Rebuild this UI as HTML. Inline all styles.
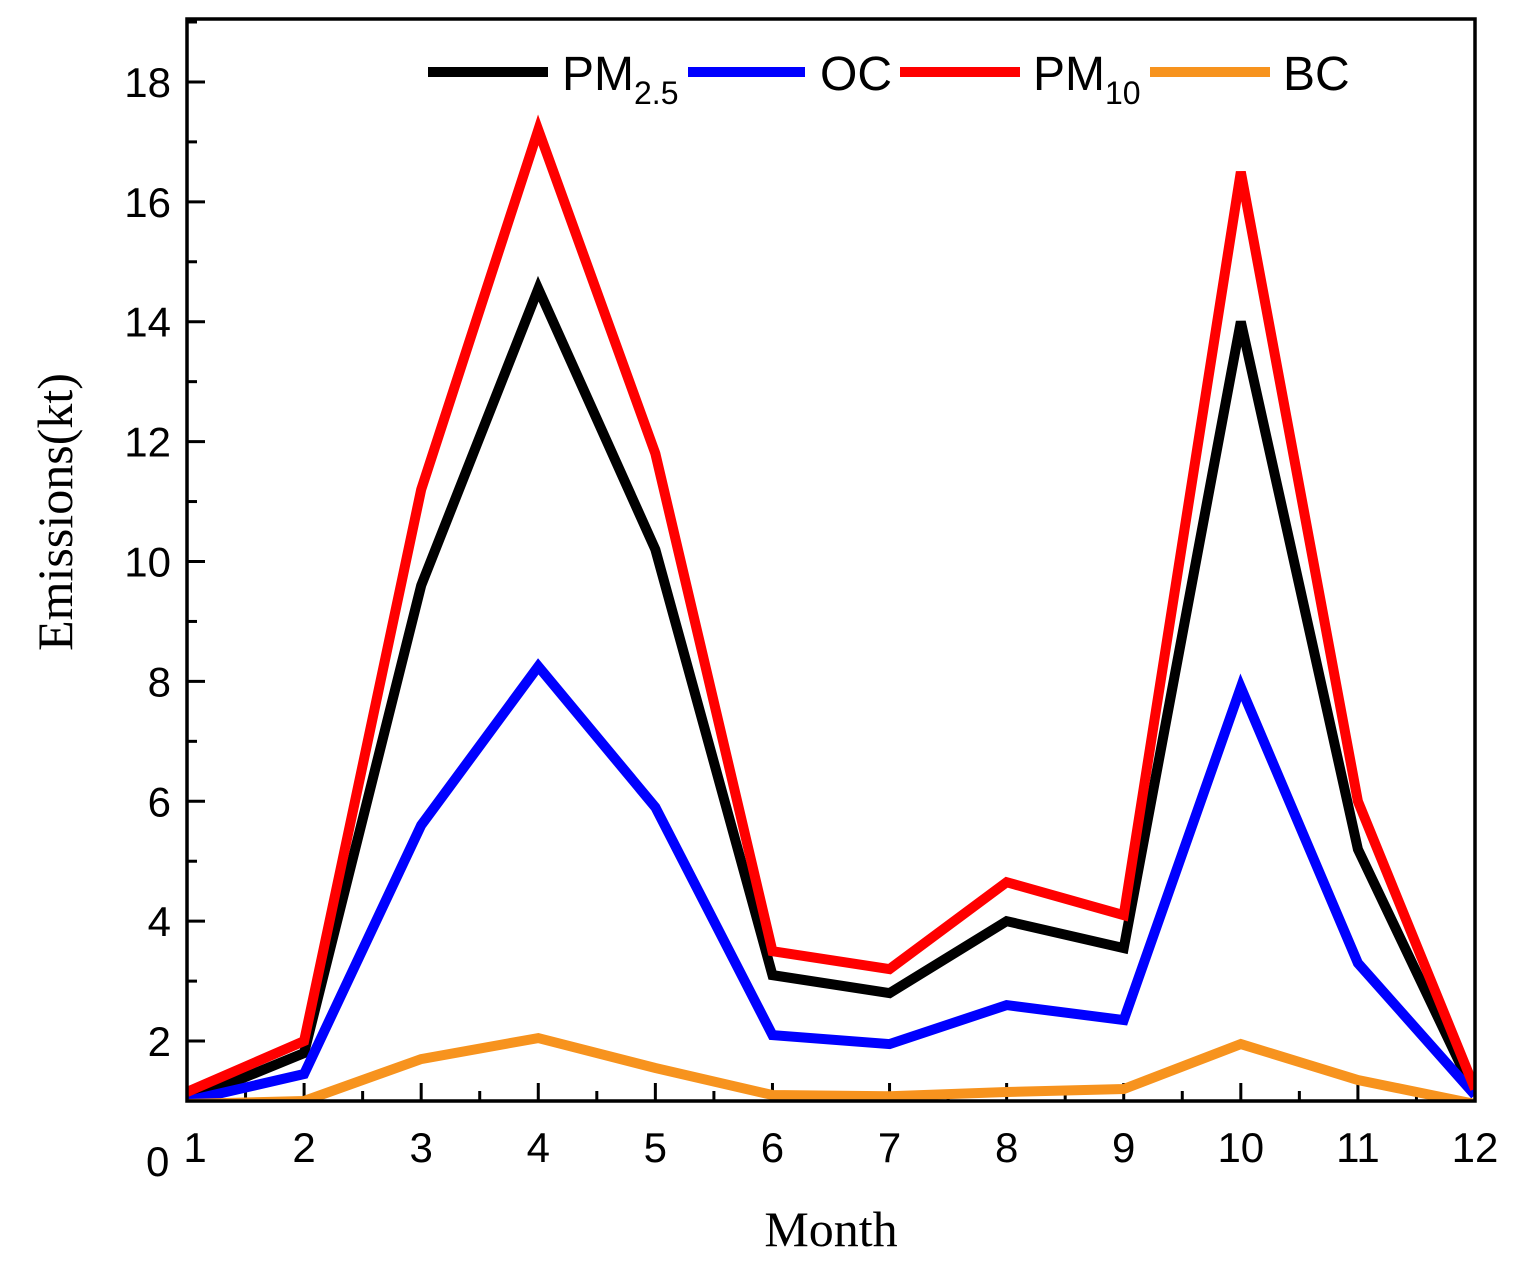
<!DOCTYPE html>
<html><head><meta charset="utf-8"><style>
body{margin:0;background:#fff;}
svg text{font-family:"Liberation Sans",Arial,sans-serif;}
</style></head><body>
<svg id="chart" width="1524" height="1281" xmlns="http://www.w3.org/2000/svg">
<defs><clipPath id="plotclip"><rect x="187" y="19" width="1288" height="1082"/></clipPath></defs>
<g id="axes"></g><g id="series" clip-path="url(#plotclip)"></g>
<rect x="187" y="19" width="1288" height="1082" fill="none" stroke="#000" stroke-width="3.5"/>
<text x="831" y="1246" font-size="50" text-anchor="middle" style="font-family:'Liberation Serif',serif">Month</text>
<text transform="translate(72,512) rotate(-90)" font-size="50" text-anchor="middle" style="font-family:'Liberation Serif',serif">Emissions(kt)</text>
<text x="146" y="1176" font-size="42">0</text>
<g>
<line x1="428" y1="72" x2="548" y2="72" stroke="#000" stroke-width="10"/>
<text x="562" y="90" font-size="48">PM<tspan font-size="32" dy="14">2.5</tspan></text>
<line x1="688" y1="72" x2="805" y2="72" stroke="#00f" stroke-width="10"/>
<text x="820" y="90" font-size="48">OC</text>
<line x1="900" y1="72" x2="1020" y2="72" stroke="#f00" stroke-width="10"/>
<text x="1033" y="90" font-size="48">PM<tspan font-size="32" dy="14">10</tspan></text>
<line x1="1150" y1="72" x2="1270" y2="72" stroke="#f7931e" stroke-width="10"/>
<text x="1283" y="90" font-size="48">BC</text>
</g>
</svg>
<script>
const months=[1,2,3,4,5,6,7,8,9,10,11,12];
const pm10=[1.15,2.0,11.2,17.2,11.8,3.5,3.2,4.65,4.1,16.5,6.0,1.2];
const pm25=[1.0,1.8,9.6,14.55,10.2,3.1,2.8,4.0,3.55,14.0,5.2,1.1];
const oc=[1.0,1.45,5.6,8.25,5.9,2.1,1.95,2.6,2.35,7.9,3.3,1.1];
const bc=[0.95,1.0,1.7,2.05,1.55,1.1,1.08,1.15,1.2,1.95,1.35,0.95];
const yTicks=[2,4,6,8,10,12,14,16,18];
const NS="http://www.w3.org/2000/svg";
const X0=187,X1=1475,Y0=1101,Y1=19,yMin=1,yMax=19.05;
function xs(m){return X0+(m-1)/11*(X1-X0);}
function ys(v){return Y0-(v-yMin)/(yMax-yMin)*(Y0-Y1);}
const ax=document.getElementById('axes');
function mk(t,a,p){const e=document.createElementNS(NS,t);for(const k in a)e.setAttribute(k,a[k]);(p||ax).appendChild(e);return e;}
yTicks.forEach(v=>{
 const l=mk('line',{x1:X0,x2:X0+18,y1:ys(v),y2:ys(v),stroke:'#000','stroke-width':3});
 
 
 const m=mk('line',{x1:X0,x2:X0+10,y1:ys(v+1),y2:ys(v+1),stroke:'#000','stroke-width':3});
 
 
 const t=mk('text',{x:X0-16,y:ys(v)+15,'font-size':42,'text-anchor':'end'});
 t.textContent=v;
 
 
});
months.forEach((m,i)=>{
 const l=mk('line',{x1:xs(m),x2:xs(m),y1:Y0,y2:Y0-18,stroke:'#000','stroke-width':3});
 
 
 if(i<months.length-1){const n=mk('line',{x1:xs(m+0.5),x2:xs(m+0.5),y1:Y0,y2:Y0-10,stroke:'#000','stroke-width':3});
 
 }
 const t=mk('text',{x:xs(m)+(m===1?8:0),y:1162,'font-size':42,'text-anchor':'middle'});
 t.textContent=m;
 
 
});
const sg=document.getElementById('series');
[[pm25,'#000','pm25-line'],[oc,'#00f','oc-line'],[pm10,'#f00','pm10-line'],[bc,'#f7931e','bc-line']].forEach(([d,c,n])=>{
 const p=mk('polyline',{points:d.map((v,i)=>xs(months[i])+','+ys(v)).join(' '),fill:'none',stroke:c,'stroke-width':10,'stroke-linejoin':'miter'},sg);
 
 
});
</script>
</body></html>
